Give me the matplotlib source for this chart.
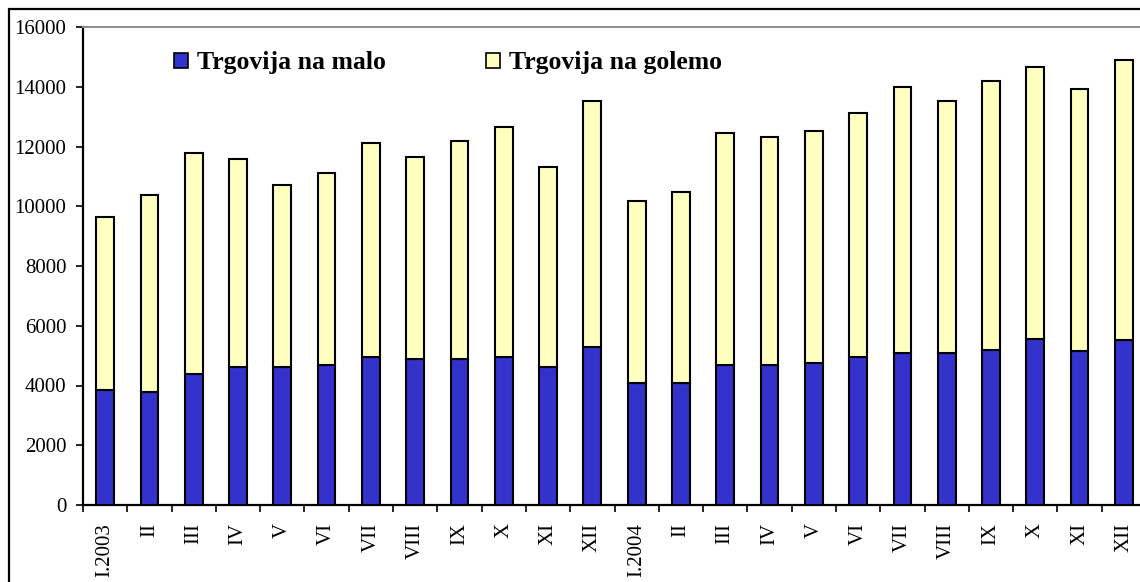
#!/usr/bin/env python3
"""
Retail vs wholesale trade by month, 2003-2004
Stacked bar chart, saved as out.png
"""

import matplotlib
matplotlib.use("Agg")
import matplotlib.pyplot as plt
from matplotlib.patches import Rectangle

# Month labels (roman numerals, year on January)
months = ["I.2003", "II", "III", "IV", "V", "VI", "VII", "VIII", "IX", "X", "XI", "XII",
          "I.2004", "II", "III", "IV", "V", "VI", "VII", "VIII", "IX", "X", "XI", "XII"]

# Trgovija na malo (bottom, blue)
retail = [3860, 3790, 4400, 4610, 4610, 4690, 4940, 4880, 4880, 4940, 4610, 5280,
          4070, 4070, 4690, 4690, 4740, 4940, 5080, 5080, 5200, 5550, 5140, 5530]

# Trgovija na golemo (top, light yellow)
wholesale = [5770, 6580, 7380, 6960, 6090, 6420, 7170, 6760, 7310, 7700, 6690, 8230,
             6100, 6420, 7750, 7620, 7780, 8180, 8900, 8430, 8980, 9100, 8770, 9380]

y_ticks = list(range(0, 16001, 2000))

BLUE = "#3333CC"
YELLOW = "#FFFFC0"


def main():
    plt.rcParams["font.family"] = ["Liberation Serif", "DejaVu Serif"]

    W, H = 1140, 582
    fig = plt.figure(figsize=(W / 100, H / 100), dpi=100)
    fig.patch.set_facecolor("white")

    # outer chart border (right and bottom sides fall outside the picture)
    fig.patches.append(Rectangle((9 / W, -0.2), 1.5, 1.2 - 9 / H,
                                 transform=fig.transFigure, fill=False,
                                 edgecolor="black", linewidth=1.6))

    # plot area: x from 83 px to ~1146 px, y from 27 px to 505 px
    ax = fig.add_axes([83 / W, (H - 505) / H, 1063 / W, 478 / H])

    x = list(range(len(months)))
    ax.bar(x, retail, width=0.4, color=BLUE, edgecolor="black", linewidth=1.5,
           label="Trgovija na malo", zorder=3)
    ax.bar(x, wholesale, width=0.4, bottom=retail, color=YELLOW, edgecolor="black",
           linewidth=1.5, label="Trgovija na golemo", zorder=3)

    ax.set_xlim(-0.5, len(months) - 0.5)
    ax.set_ylim(0, 16000)

    # y axis
    ax.set_yticks(y_ticks)
    ax.set_yticklabels([str(v) for v in y_ticks])
    ax.tick_params(axis="y", direction="out", length=5, width=1.2, pad=7,
                   labelsize=15)

    # x axis: tick marks between categories, labels at centers
    ax.set_xticks([i - 0.5 for i in range(len(months) + 1)])
    ax.set_xticklabels([])
    ax.tick_params(axis="x", which="major", direction="out", length=5, width=1.2)
    ax.set_xticks(x, minor=True)
    ax.set_xticklabels(months, minor=True, rotation=90, fontsize=15)
    ax.tick_params(axis="x", which="minor", length=0, pad=13)

    for side in ["left", "bottom"]:
        ax.spines[side].set_color("black")
        ax.spines[side].set_linewidth(1.6)
    for side in ["top", "right"]:
        ax.spines[side].set_color("#8C8C8C")
        ax.spines[side].set_linewidth(1.4)

    leg = ax.legend(ncol=2, loc="center left", frameon=False,
                    bbox_to_anchor=(174 / W, 1 - 63 / H),
                    bbox_transform=fig.transFigure,
                    prop={"family": ["Liberation Serif", "DejaVu Serif"],
                          "weight": "bold", "size": 18.5},
                    handlelength=0.55, handleheight=0.55, handletextpad=0.35,
                    columnspacing=3.9, borderpad=0, borderaxespad=0)
    for h in leg.legend_handles:
        h.set_linewidth(1.2)

    fig.savefig("out.png", dpi=100, facecolor="white")
    print("Saved out.png")


if __name__ == "__main__":
    main()
